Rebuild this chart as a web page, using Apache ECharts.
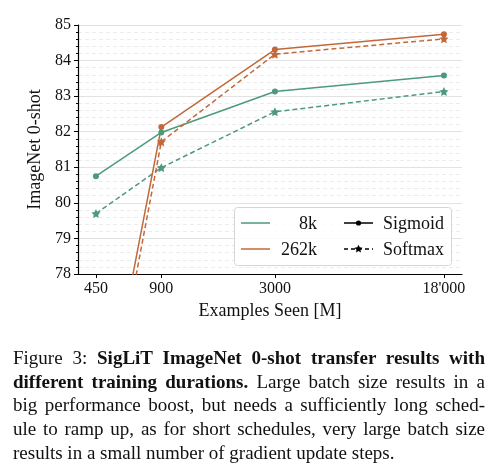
<!DOCTYPE html>
<html>
<head>
<meta charset="utf-8">
<script src="https://cdn.jsdelivr.net/npm/echarts@6/dist/echarts.min.js"></script>
<style>
  html, body { margin: 0; padding: 0; background: #fff; }
  #chart { position: absolute; left: 0; top: 0; width: 501px; height: 475px; }
  #caption {
    position: absolute; left: 13px; top: 346px; width: 472px;
    font-family: "Liberation Serif", "DejaVu Serif", serif;
    font-size: 19px; line-height: 23.7px; color: #111;
  }
  #caption div { white-space: nowrap; text-align: justify; text-align-last: justify; }
  #caption div.last { text-align-last: left; }
</style>
</head>
<body>
<div id="chart"></div>
<div id="caption">
  <div>Figure 3: <b>SigLiT ImageNet 0-shot transfer results with</b></div>
  <div><b>different training durations.</b> Large batch size results in a</div>
  <div>big performance boost, but needs a sufficiently long sched-</div>
  <div>ule to ramp up, as for short schedules, very large batch size</div>
  <div class="last">results in a small number of gradient update steps.</div>
</div>
<script>
// examples seen (millions)
const steps = [450, 900, 3000, 18000];
const tickLabels = ['450', '900', '3000', "18'000"];

// ImageNet 0-shot accuracy
const sig8k = [80.75, 81.98, 83.13, 83.58];
const soft8k = [79.70, 80.99, 82.56, 83.13];
const sig262k = [72.6, 82.13, 84.31, 84.74];
const soft262k = [72.0, 81.72, 84.18, 84.61];

const GREEN = '#4c9a7c';
const ORANGE = '#c2683a';
const STAR_PTS = [[0, -10], [2.94, -4.05], [9.51, -3.09], [4.76, 1.55], [5.88, 8.09],
  [0, 5], [-5.88, 8.09], [-4.76, 1.55], [-9.51, -3.09], [-2.94, -4.05]];
const STAR = 'path://M' + STAR_PTS.map(p => p.join(',')).join('L') + 'Z';
const FONT = 'Liberation Serif';

const pairs = (ys) => steps.map((x, i) => [x, ys[i]]);

function mkSeries(name, ys, color, dashed) {
  return {
    name: name,
    type: 'line',
    data: pairs(ys),
    clip: true,
    symbol: dashed ? STAR : 'circle',
    symbolSize: dashed ? 9 : 6,
    itemStyle: { color: color },
    lineStyle: { color: color, width: 1.5, type: dashed ? [5, 3] : 'solid' },
    emphasis: { disabled: true },
    z: 3
  };
}

// legend drawn by hand: colour block + style block, one frame
const LX = 234.5, LY = 207.5, LW = 217, LH = 58;
const row1 = 223, row2 = 249;
const legendFont = '18px "Liberation Serif"';
function seg(x1, x2, y, color, dashed) {
  return {
    type: 'line', z: 11,
    shape: { x1: x1, y1: y, x2: x2, y2: y },
    style: { stroke: color, lineWidth: 1.5, lineDash: dashed ? [4, 3] : null }
  };
}
function label(x, y, text, align) {
  return {
    type: 'text', z: 11, x: x, y: y,
    style: { text: text, font: legendFont, fill: '#111', align: align, verticalAlign: 'middle' }
  };
}
const legendGraphic = [
  {
    type: 'rect', z: 10,
    shape: { x: LX, y: LY, width: LW, height: LH, r: 3 },
    style: { fill: 'rgba(255,255,255,0.85)', stroke: '#d6d6d6', lineWidth: 1 }
  },
  seg(241, 270, row1, GREEN, false),
  label(317, row1 + 1, '8k', 'right'),
  seg(241, 270, row2, ORANGE, false),
  label(317, row2 + 1, '262k', 'right'),
  seg(344, 373, row1, '#000', false),
  { type: 'circle', z: 12, shape: { cx: 358.5, cy: row1, r: 2.6 }, style: { fill: '#000' } },
  label(383, row1 + 1, 'Sigmoid', 'left'),
  seg(344, 373, row2, '#000', true),
  {
    type: 'polygon', z: 12, x: 358.5, y: row2, scaleX: 0.42, scaleY: 0.42,
    shape: { points: STAR_PTS },
    style: { fill: '#000' }
  },
  label(383, row2 + 1, 'Softmax', 'left')
];

const chart = echarts.init(document.getElementById('chart'));

chart.setOption({
  animation: false,
  textStyle: { fontFamily: FONT },
  grid: { left: 78, right: 39, top: 25, bottom: 201 },
  xAxis: {
    type: 'log',
    min: 372,
    max: 21800,
    name: 'Examples Seen [M]',
    nameLocation: 'middle',
    nameGap: 25,
    nameTextStyle: { fontFamily: FONT, fontSize: 18, color: '#111' },
    axisLine: { lineStyle: { color: '#000', width: 1.2 } },
    axisTick: { show: true, length: 4, customValues: steps, lineStyle: { color: '#000' } },
    axisLabel: {
      customValues: steps,
      margin: 7,
      fontFamily: FONT, fontSize: 16, color: '#111',
      formatter: (v) => tickLabels[steps.indexOf(Math.round(v))] || ''
    },
    splitLine: { show: false },
    minorTick: { show: false }
  },
  yAxis: {
    type: 'value',
    min: 78,
    max: 85,
    interval: 1,
    name: 'ImageNet 0-shot',
    nameLocation: 'middle',
    nameGap: 23,
    nameTextStyle: { fontFamily: FONT, fontSize: 18, color: '#111' },
    axisLine: { show: true, lineStyle: { color: '#000', width: 1.2 } },
    axisTick: { show: true, length: 4, lineStyle: { color: '#000' } },
    minorTick: { show: true, splitNumber: 5, length: 2, lineStyle: { color: '#000' } },
    axisLabel: { margin: 7, fontFamily: FONT, fontSize: 16, color: '#111' },
    splitLine: { show: true, lineStyle: { color: '#e2e2e2', width: 1 } },
    minorSplitLine: { show: true, lineStyle: { color: '#ececec', width: 1, type: [4, 3] } }
  },
  graphic: legendGraphic,
  series: [
    mkSeries('8k Sigmoid', sig8k, GREEN, false),
    mkSeries('8k Softmax', soft8k, GREEN, true),
    mkSeries('262k Sigmoid', sig262k, ORANGE, false),
    mkSeries('262k Softmax', soft262k, ORANGE, true)
  ]
});
</script>
</body>
</html>
